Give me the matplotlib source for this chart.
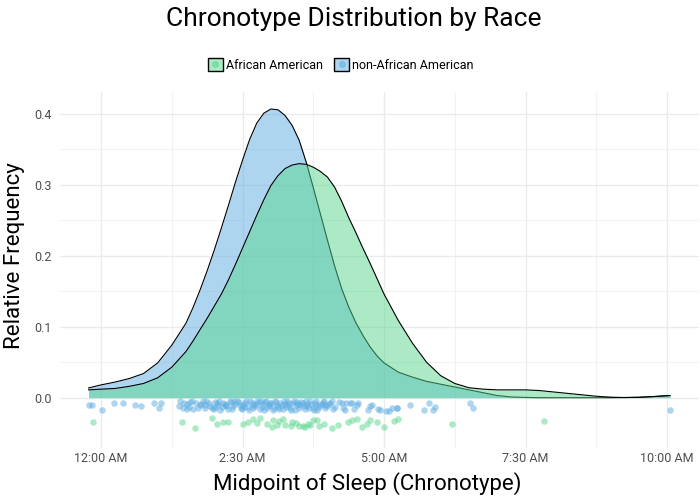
import matplotlib
matplotlib.use("Agg")
import matplotlib.pyplot as plt
from matplotlib.patches import Patch
from matplotlib.lines import Line2D

plt.rcParams['font.family'] = ['Roboto', 'DejaVu Sans']

# density curves (hours after midnight -> relative frequency)
hours = [-0.22, 0.0, 0.25, 0.5, 0.75, 1.0, 1.25, 1.5, 1.625, 1.75, 1.875, 2.0,
         2.125, 2.25, 2.375, 2.5, 2.625, 2.75, 2.875, 3.0, 3.125, 3.25, 3.375,
         3.5, 3.625, 3.75, 3.875, 4.0, 4.125, 4.25, 4.375, 4.5, 4.625, 4.75,
         4.875, 5.0, 5.25, 5.5, 5.75, 6.0, 6.25, 6.5, 6.75, 7.0, 7.25, 7.5,
         7.75, 8.0, 8.25, 8.5, 8.75, 9.0, 9.25, 9.5, 9.75, 10.05]
dens_other = [0.0137, 0.018, 0.022, 0.027, 0.034, 0.049, 0.074, 0.105, 0.127,
              0.152, 0.179, 0.208, 0.239, 0.271, 0.304, 0.335, 0.364, 0.387,
              0.401, 0.407, 0.406, 0.398, 0.384, 0.363, 0.332, 0.296, 0.259,
              0.222, 0.186, 0.154, 0.128, 0.106, 0.088, 0.072, 0.059, 0.049,
              0.036, 0.029, 0.023, 0.019, 0.015, 0.011, 0.007, 0.003, 0.001,
              0.0003, 0.0, 0.0, 0.0, 0.0, 0.0, 0.0, 0.0002, 0.0005, 0.0015, 0.003]
dens_aa = [0.011, 0.012, 0.013, 0.016, 0.020, 0.028, 0.043, 0.065, 0.080,
           0.096, 0.112, 0.129, 0.146, 0.166, 0.188, 0.211, 0.234, 0.257,
           0.279, 0.299, 0.313, 0.323, 0.328, 0.330, 0.329, 0.325, 0.319,
           0.311, 0.297, 0.277, 0.254, 0.233, 0.211, 0.190, 0.168, 0.146,
           0.109, 0.077, 0.050, 0.031, 0.020, 0.014, 0.012, 0.011, 0.011,
           0.011, 0.010, 0.008, 0.006, 0.004, 0.002, 0.0007, 0.0002, 0.0005,
           0.0015, 0.003]

# jittered individual observations
other_x = [-0.22, -0.16, 0.02, 0.23, 0.38, 0.60, 0.71, 0.94, 1.03, 1.06,
           1.40, 1.44, 1.51, 1.58, 1.63, 1.68, 1.75, 1.80, 1.84, 1.91, 1.96,
           2.01, 2.07, 2.11, 2.16, 2.21, 2.27, 2.31, 2.37, 2.43, 2.47, 2.51,
           2.56, 2.62, 2.66, 2.72, 2.76, 2.81, 2.86, 2.90, 2.94, 2.99, 3.03,
           3.07, 3.11, 3.16, 3.21, 3.25, 3.29, 3.34, 3.39, 3.43, 3.47, 3.52,
           3.56, 3.60, 3.64, 3.69, 3.74, 3.78, 3.82, 3.87, 3.92, 3.96, 4.02,
           4.08, 4.10, 4.28, 4.33, 4.43, 4.46, 4.52, 4.71, 4.75, 4.90, 5.04,
           1.37, 1.47, 1.55, 1.61, 1.71, 1.77, 1.86, 1.93, 1.99, 2.04, 2.09,
           2.14, 2.19, 2.24, 2.29, 2.34, 2.40, 2.45, 2.49, 2.54, 2.59, 2.64,
           2.69, 2.74, 2.79, 2.84, 2.88, 2.92, 2.97, 3.01, 3.05, 3.09, 3.14,
           3.19, 3.23, 3.27, 3.32, 3.36, 3.41, 3.45, 3.50, 3.54, 3.58, 3.62,
           3.67, 3.71, 3.76, 3.80, 3.85, 3.90, 3.94, 3.99, 4.05, 4.13, 4.20,
           2.20, 2.35, 2.52, 2.68, 2.83, 2.96, 3.12, 3.30, 3.48, 3.63, 3.79,
           3.95, 1.52, 1.83, 2.02,
           4.25, 4.31, 4.40, 4.54, 4.78, 4.92, 5.09, 5.14, 5.22, 5.22, 5.45,
           5.70, 5.80, 5.87, 5.90, 6.51, 6.57, 10.05]
other_y = [-0.010, -0.010, -0.018, -0.007, -0.008, -0.010, -0.012, -0.007,
           -0.015, -0.007,
           -0.004, -0.015, -0.009, -0.006, -0.016, -0.008, -0.011, -0.004,
           -0.015, -0.007, -0.014, -0.006, -0.010, -0.017, -0.007, -0.012,
           -0.004, -0.016, -0.009, -0.006, -0.015, -0.010, -0.004, -0.017,
           -0.008, -0.012, -0.004, -0.016, -0.009, -0.006, -0.014, -0.008,
           -0.017, -0.004, -0.011, -0.007, -0.016, -0.009, -0.004, -0.014,
           -0.008, -0.017, -0.006, -0.011, -0.007, -0.016, -0.009, -0.004,
           -0.014, -0.008, -0.017, -0.010, -0.006, -0.015, -0.009, -0.004,
           -0.016, -0.014, -0.007, -0.008, -0.016, -0.010, -0.017, -0.012,
           -0.016, -0.019,
           -0.012, -0.007, -0.013, -0.004, -0.015, -0.009, -0.005, -0.012,
           -0.016, -0.008, -0.004, -0.013, -0.009, -0.016, -0.006, -0.012,
           -0.004, -0.010, -0.016, -0.007, -0.013, -0.005, -0.015, -0.009,
           -0.006, -0.013, -0.017, -0.004, -0.012, -0.008, -0.014, -0.006,
           -0.016, -0.010, -0.005, -0.013, -0.008, -0.017, -0.004, -0.011,
           -0.015, -0.006, -0.012, -0.005, -0.014, -0.009, -0.017, -0.005,
           -0.013, -0.009, -0.004, -0.012, -0.007, -0.013, -0.006,
           -0.011, -0.005, -0.013, -0.011, -0.004, -0.010, -0.013, -0.011,
           -0.009, -0.012, -0.011, -0.011, -0.016, -0.010, -0.013,
           -0.008, -0.017, -0.007, -0.008, -0.011, -0.017, -0.019, -0.015,
           -0.015, -0.015, -0.011, -0.017, -0.007, -0.017, -0.013, -0.007,
           -0.015, -0.017]

aa_x = [-0.15, 1.43, 1.66, 1.96, 2.04, 2.16, 2.25, 2.51, 2.60, 2.69, 2.81,
        2.93, 3.02, 3.04, 3.10, 3.22, 3.25, 3.37, 3.49, 3.57, 3.66, 3.69,
        3.75, 3.81, 3.93, 4.08, 4.19, 4.37, 4.43, 4.52, 4.61, 4.69, 4.75,
        4.87, 4.99, 5.18, 5.24, 6.20, 7.83,
        2.75, 3.15, 3.35, 3.45, 3.60, 3.85]
aa_y = [-0.035, -0.035, -0.043, -0.029, -0.037, -0.034, -0.034, -0.037,
        -0.034, -0.030, -0.029, -0.037, -0.042, -0.031, -0.038, -0.030,
        -0.039, -0.035, -0.040, -0.040, -0.037, -0.039, -0.031, -0.032,
        -0.037, -0.043, -0.039, -0.035, -0.032, -0.030, -0.042, -0.037,
        -0.031, -0.034, -0.042, -0.033, -0.030, -0.037, -0.033,
        -0.036, -0.033, -0.040, -0.036, -0.041, -0.040]

tick_hours = [0, 2.5, 5, 7.5, 10]
tick_labels = ['12:00 AM', '2:30 AM', '5:00 AM', '7:30 AM', '10:00 AM']

green = '#58D68D'
blue = '#5DADE2'

fig = plt.figure(figsize=(7, 5.03), dpi=100)
ax = fig.add_axes([0.0853, 0.1093, 0.913, 0.7078])

# density areas, non-African American first so the green one sits on top
ax.fill_between(hours, dens_other, 0, color=blue, alpha=0.5, lw=0, zorder=2)
ax.plot(hours, dens_other, color='black', lw=0.8, zorder=3)
ax.fill_between(hours, dens_aa, 0, color=green, alpha=0.5, lw=0, zorder=4)
ax.plot(hours, dens_aa, color='black', lw=0.8, zorder=5)

ax.scatter(other_x, other_y, s=22, color=blue, alpha=0.5, lw=0, zorder=6)
ax.scatter(aa_x, aa_y, s=22, color=green, alpha=0.5, lw=0, zorder=6)

ax.set_xlim(-0.73, 10.56)
ax.set_ylim(-0.071, 0.431)
ax.set_xticks(tick_hours)
ax.set_xticklabels(tick_labels)
ax.set_xticks([1.25, 3.75, 6.25, 8.75], minor=True)
ax.set_yticks([0, 0.1, 0.2, 0.3, 0.4])
ax.set_yticklabels(['0.0', '0.1', '0.2', '0.3', '0.4'])
ax.set_yticks([0.05, 0.15, 0.25, 0.35], minor=True)
ax.grid(which='major', color='#ebebeb', lw=1.0, zorder=0)
ax.grid(which='minor', color='#f2f2f2', lw=0.8, zorder=0)
ax.set_axisbelow(True)
for s in ax.spines.values():
    s.set_visible(False)
ax.tick_params(which='both', length=0, labelsize=9, labelcolor='#4d4d4d')
ax.tick_params(axis='x', pad=3)
ax.tick_params(axis='y', pad=6)

fig.text(0.525, 0.038, 'Midpoint of Sleep (Chronotype)', fontsize=16,
         ha='center', va='center')
fig.text(0.021, 0.491, 'Relative Frequency', fontsize=16, rotation=90,
         ha='center', va='center')
fig.text(0.505, 0.962, 'Chronotype Distribution by Race', fontsize=19,
         ha='center', va='center')

handles = [
    (Patch(facecolor=green, alpha=0.5, edgecolor='none'),
     Patch(facecolor='none', edgecolor='black', lw=1.0),
     Line2D([], [], marker='o', ls='', color=green, alpha=0.5, markersize=4)),
    (Patch(facecolor=blue, alpha=0.5, edgecolor='none'),
     Patch(facecolor='none', edgecolor='black', lw=1.0),
     Line2D([], [], marker='o', ls='', color=blue, alpha=0.5, markersize=4)),
]
fig.legend(handles, ['African American', 'non-African American'], loc='center',
           bbox_to_anchor=(0.487, 1 - 65 / 503), ncol=2, frameon=False,
           fontsize=9, handlelength=1.2, handleheight=1.2, handletextpad=0.25,
           columnspacing=0.9)

fig.savefig('out.png', dpi=100)
